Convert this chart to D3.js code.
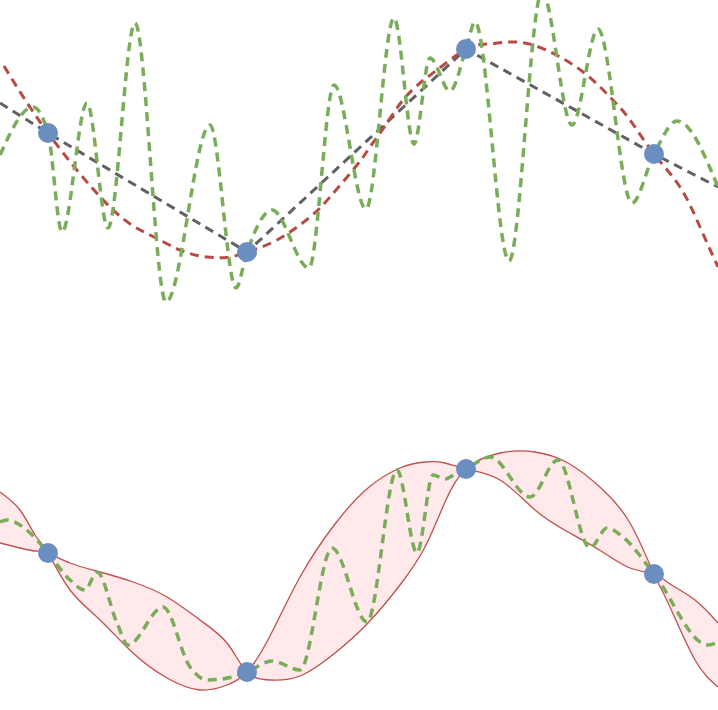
<!DOCTYPE html>
<html>
<head>
<meta charset="utf-8">
<script src="https://cdn.jsdelivr.net/npm/d3@7"></script>
<style>
  body { margin: 0; background: #fff; }
  svg { display: block; }
</style>
</head>
<body>
<svg id="svgMain" width="718" height="710"></svg>
<script>
// observed points (shared by both panels)
const pointX = [0.48, 2.47, 4.66, 6.54];
const pointY = [0.34, -2.04, 2.02, -0.08];

// top panel: straight-line fit through the points, extended to the edges
const linearX = [0, 0.48, 2.47, 4.66, 6.54, 7.18];
const linearY = [0.94, 0.34, -2.04, 2.02, -0.08, -0.74];

// top panel: smooth mean
const meanX = [0.04, 0.48, 1.10, 1.50, 1.80, 2.07, 2.30, 2.47, 2.77, 3.10, 3.30, 3.57, 3.70, 3.87, 4.03, 4.20, 4.37, 4.66, 4.87, 5.10, 5.33, 5.60, 5.87, 6.10, 6.30, 6.54, 6.80, 7.00, 7.18];
const meanY = [1.68, 0.34, -1.14, -1.70, -2.00, -2.14, -2.14, -2.04, -1.80, -1.34, -0.94, -0.30, 0.06, 0.54, 1.00, 1.34, 1.60, 2.02, 2.12, 2.16, 2.10, 1.86, 1.50, 1.06, 0.60, -0.08, -0.74, -1.54, -2.34];

// top panel: wiggly sample
const sampleTopX = [0, 0.33, 0.48, 0.62, 0.87, 1.08, 1.35, 1.66, 2.10, 2.36, 2.47, 2.72, 3.09, 3.34, 3.66, 3.94, 4.14, 4.30, 4.50, 4.66, 4.75, 5.09, 5.42, 5.72, 5.98, 6.32, 6.54, 6.77, 7.18];
const sampleTopY = [-0.10, 0.86, 0.34, -1.64, 0.94, -1.56, 2.54, -3.04, 0.50, -2.76, -2.04, -1.20, -2.36, 1.30, -1.18, 2.64, 0.12, 1.84, 1.18, 2.02, 2.56, -2.22, 3.16, 0.50, 2.42, -1.06, -0.08, 0.58, -0.74];

// bottom panel: band edges
const bandX = [0, 0.20, 0.35, 0.48, 0.70, 1.00, 1.33, 1.67, 2.00, 2.27, 2.47, 2.70, 3.00, 3.35, 3.68, 4.00, 4.25, 4.45, 4.66, 5.00, 5.35, 5.68, 6.01, 6.30, 6.54, 6.70, 6.95, 7.18];
const bandA = [1.56, 1.20, 0.70, 0.34, -0.40, -1.00, -1.66, -2.16, -2.40, -2.30, -2.04, -1.32, -0.14, 0.92, 1.64, 2.04, 2.16, 2.14, 2.02, 1.80, 1.20, 0.76, 0.38, 0.04, -0.08, -0.28, -0.60, -1.06];
const bandB = [0.54, 0.44, 0.38, 0.34, 0.14, -0.04, -0.24, -0.54, -1.00, -1.46, -2.04, -2.20, -2.12, -1.66, -1.06, -0.30, 0.46, 1.36, 2.02, 2.34, 2.36, 2.14, 1.64, 0.94, -0.08, -0.74, -1.80, -2.34];

// bottom panel: wiggly sample
const sampleBotX = [0, 0.07, 0.23, 0.37, 0.48, 0.70, 0.85, 0.97, 1.17, 1.28, 1.63, 1.90, 2.07, 2.33, 2.47, 2.72, 3.00, 3.32, 3.67, 3.97, 4.17, 4.33, 4.45, 4.57, 4.66, 4.90, 5.30, 5.58, 5.90, 6.07, 6.23, 6.54, 7.08, 7.18];
const sampleBotY = [0.96, 1.00, 0.86, 0.60, 0.34, -0.20, -0.40, -0.04, -1.06, -1.50, -0.74, -1.94, -2.20, -2.14, -2.04, -1.82, -2.00, 0.44, -1.04, 2.00, 0.34, 1.90, 1.82, 1.94, 2.02, 2.26, 1.46, 2.20, 0.44, 0.84, 0.66, -0.08, -1.50, -1.44];

let svgMain = d3.select("#svgMain");
let svgMainWidth = +svgMain.attr("width");

const green = "#7aad5a";
const red = "#b84a44";
const gray = "#616161";
const blue = "#6a8ec0";

const xScale = d3.scaleLinear().domain([0, 7.18]).range([0, svgMainWidth]);
const yTop = d3.scaleLinear().domain([-3, 3]).range([300, 0]);
const yBot = d3.scaleLinear().domain([-3, 3]).range([720, 420]);

const zip = (xs, ys) => xs.map((x, i) => [x, ys[i]]);

function lineFor(yScale, curve) {
    return d3.line()
        .x(d => xScale(d[0]))
        .y(d => yScale(d[1]))
        .curve(curve);
}

//Top panel
const topPanel = svgMain.append("g").attr("class", "top");

topPanel.append("path")
    .attr("d", lineFor(yTop, d3.curveLinear)(zip(linearX, linearY)))
    .style("fill", "none")
    .style("stroke", gray)
    .style("stroke-width", 3)
    .style("stroke-dasharray", "9,6");

topPanel.append("path")
    .attr("d", lineFor(yTop, d3.curveNatural)(zip(meanX, meanY)))
    .style("fill", "none")
    .style("stroke", red)
    .style("stroke-width", 3)
    .style("stroke-dasharray", "9,6");

topPanel.append("path")
    .attr("d", lineFor(yTop, d3.curveMonotoneX)(zip(sampleTopX, sampleTopY)))
    .style("fill", "none")
    .style("stroke", green)
    .style("stroke-width", 3.5)
    .style("stroke-dasharray", "9,6");

topPanel.selectAll("circle")
    .data(zip(pointX, pointY))
    .enter().append("circle")
    .attr("cx", d => xScale(d[0]))
    .attr("cy", d => yTop(d[1]))
    .attr("r", 10)
    .style("fill", blue);

//Bottom panel
const botPanel = svgMain.append("g").attr("class", "bottom");
const bandData = bandX.map((x, i) => ({ x: x, a: bandA[i], b: bandB[i] }));

botPanel.append("path")
    .attr("d", d3.area()
        .x(d => xScale(d.x))
        .y0(d => yBot(d.a))
        .y1(d => yBot(d.b))
        .curve(d3.curveNatural)(bandData))
    .style("fill", "#ffe9ea")
    .style("stroke", "none");

[bandA, bandB].forEach(ys => {
    botPanel.append("path")
        .attr("d", lineFor(yBot, d3.curveNatural)(zip(bandX, ys)))
        .style("fill", "none")
        .style("stroke", "#c0504d")
        .style("stroke-width", 1.3);
});

botPanel.append("path")
    .attr("d", lineFor(yBot, d3.curveMonotoneX)(zip(sampleBotX, sampleBotY)))
    .style("fill", "none")
    .style("stroke", green)
    .style("stroke-width", 3.5)
    .style("stroke-dasharray", "9,6");

botPanel.selectAll("circle")
    .data(zip(pointX, pointY))
    .enter().append("circle")
    .attr("cx", d => xScale(d[0]))
    .attr("cy", d => yBot(d[1]))
    .attr("r", 10)
    .style("fill", blue);
</script>
</body>
</html>
